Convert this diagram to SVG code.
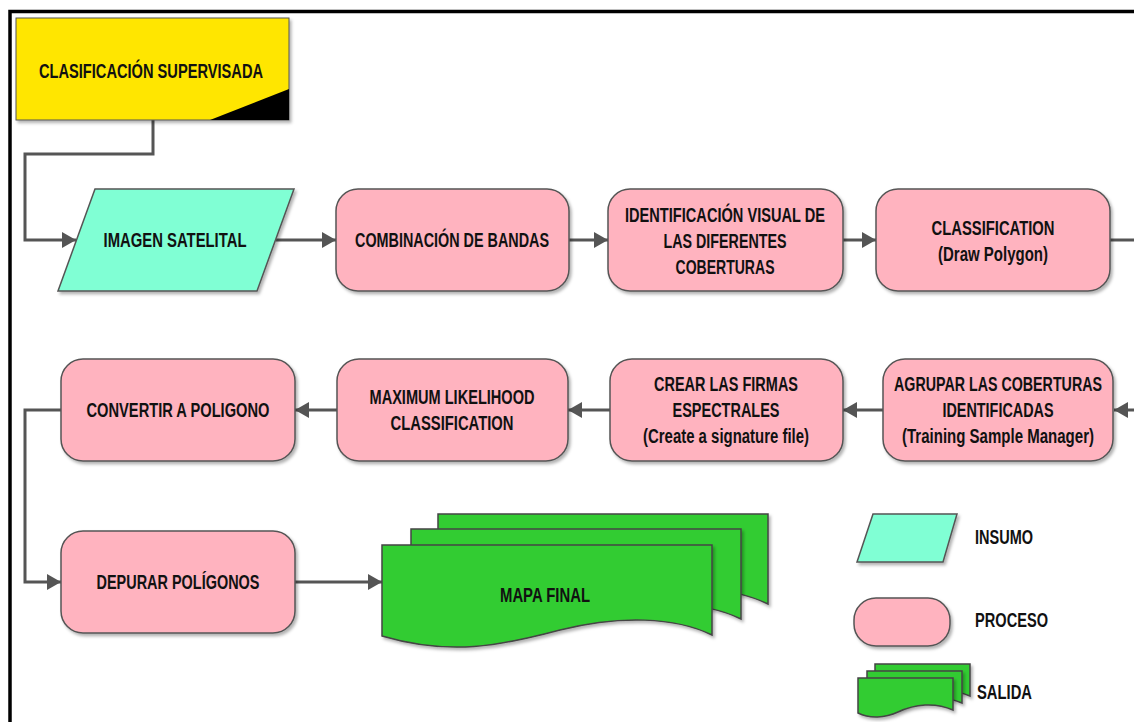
<svg xmlns="http://www.w3.org/2000/svg" width="1134" height="722" viewBox="0 0 1134 722">
<defs>
<style>
.t{font-family:"Liberation Sans Narrow","Arial Narrow","Liberation Sans",Arial,sans-serif;font-weight:bold;font-size:19.5px;fill:#111;text-anchor:middle}
.l{text-anchor:start}
.proc{fill:#FFB3BF;stroke:#555;stroke-width:1.5}
.inp{fill:#80FFD4;stroke:#555;stroke-width:1.5}
.out{fill:#33CC33;stroke:#444;stroke-width:1.5}
.conn{fill:none;stroke:#555;stroke-width:3}
</style>
<filter id="sh" x="-10%" y="-10%" width="120%" height="130%">
<feDropShadow dx="2" dy="2.5" stdDeviation="1.5" flood-color="#000" flood-opacity="0.3"/>
</filter>
<marker id="ah" markerUnits="userSpaceOnUse" markerWidth="14" markerHeight="16" refX="14" refY="8" orient="auto" viewBox="0 0 14 16">
<path d="M0,0 L14,8 L0,16 Z" fill="#555"/>
</marker>
<path id="sheet" d="M382,545 H712 V635 C675,617 620,615 560,630 C500,646 450,656 382,636 Z"/>
<path id="lsheet" d="M858,678 H953 V710 C935,702 915,704 898,712 C885,718 870,719 858,713 Z"/>
</defs>
<rect width="1134" height="722" fill="#fff"/>
<path d="M10,722 V11.5 H1134" fill="none" stroke="#000" stroke-width="3.5"/>

<g id="connectors">
<path class="conn" d="M153,120 V154 H25 V240 H76" marker-end="url(#ah)"/>
<path class="conn" d="M276,240 H336" marker-end="url(#ah)"/>
<path class="conn" d="M569,240 H608" marker-end="url(#ah)"/>
<path class="conn" d="M843,240 H876" marker-end="url(#ah)"/>
<path class="conn" d="M1110,240 H1134"/>
<path class="conn" d="M1134,410 H1114" marker-end="url(#ah)"/>
<path class="conn" d="M883,410 H843" marker-end="url(#ah)"/>
<path class="conn" d="M610,410 H568" marker-end="url(#ah)"/>
<path class="conn" d="M337,410 H295" marker-end="url(#ah)"/>
<path class="conn" d="M61,410 H25 V582 H61" marker-end="url(#ah)"/>
<path class="conn" d="M295,582 H382" marker-end="url(#ah)"/>
</g>

<g id="clasificacion">
<rect x="16" y="18" width="273" height="102" fill="#FFE600" stroke="#555" stroke-width="1" filter="url(#sh)"/>
<polygon points="210,120 289,89 289,120" fill="#000"/>
<text class="t" x="151" y="78" textLength="224" lengthAdjust="spacingAndGlyphs">CLASIFICACIÓN SUPERVISADA</text>
</g>

<g id="imagen">
<polygon class="inp" points="95,189 294,189 257,291 58,291" filter="url(#sh)"/>
<text class="t" x="175" y="247" textLength="143" lengthAdjust="spacingAndGlyphs">IMAGEN SATELITAL</text>
</g>

<g id="combinacion">
<rect class="proc" x="336" y="189" width="233" height="102" rx="22" filter="url(#sh)"/>
<text class="t" x="452" y="247" textLength="194" lengthAdjust="spacingAndGlyphs">COMBINACIÓN DE BANDAS</text>
</g>

<g id="identificacion">
<rect class="proc" x="608" y="189" width="235" height="102" rx="22" filter="url(#sh)"/>
<text class="t" x="725" y="222" textLength="200" lengthAdjust="spacingAndGlyphs">IDENTIFICACIÓN VISUAL DE</text>
<text class="t" x="725" y="248" textLength="123" lengthAdjust="spacingAndGlyphs">LAS DIFERENTES</text>
<text class="t" x="725" y="274" textLength="99" lengthAdjust="spacingAndGlyphs">COBERTURAS</text>
</g>

<g id="classification">
<rect class="proc" x="876" y="189" width="234" height="102" rx="22" filter="url(#sh)"/>
<text class="t" x="993" y="235" textLength="123" lengthAdjust="spacingAndGlyphs">CLASSIFICATION</text>
<text class="t" x="993" y="261" textLength="110" lengthAdjust="spacingAndGlyphs">(Draw Polygon)</text>
</g>

<g id="agrupar">
<rect class="proc" x="883" y="359" width="230" height="102" rx="22" filter="url(#sh)"/>
<text class="t" x="998" y="391" textLength="208" lengthAdjust="spacingAndGlyphs">AGRUPAR LAS COBERTURAS</text>
<text class="t" x="998" y="417" textLength="111" lengthAdjust="spacingAndGlyphs">IDENTIFICADAS</text>
<text class="t" x="998" y="443" textLength="192" lengthAdjust="spacingAndGlyphs">(Training Sample Manager)</text>
</g>

<g id="crear">
<rect class="proc" x="610" y="359" width="233" height="102" rx="22" filter="url(#sh)"/>
<text class="t" x="726" y="391" textLength="144" lengthAdjust="spacingAndGlyphs">CREAR LAS FIRMAS</text>
<text class="t" x="726" y="417" textLength="107" lengthAdjust="spacingAndGlyphs">ESPECTRALES</text>
<text class="t" x="726" y="443" textLength="166" lengthAdjust="spacingAndGlyphs">(Create a signature file)</text>
</g>

<g id="maximum">
<rect class="proc" x="337" y="359" width="231" height="102" rx="22" filter="url(#sh)"/>
<text class="t" x="452" y="404" textLength="165" lengthAdjust="spacingAndGlyphs">MAXIMUM LIKELIHOOD</text>
<text class="t" x="452" y="430" textLength="123" lengthAdjust="spacingAndGlyphs">CLASSIFICATION</text>
</g>

<g id="convertir">
<rect class="proc" x="61" y="359" width="234" height="102" rx="22" filter="url(#sh)"/>
<text class="t" x="178" y="417" textLength="183" lengthAdjust="spacingAndGlyphs">CONVERTIR A POLIGONO</text>
</g>

<g id="depurar">
<rect class="proc" x="61" y="531" width="234" height="102" rx="22" filter="url(#sh)"/>
<text class="t" x="178" y="589" textLength="163" lengthAdjust="spacingAndGlyphs">DEPURAR POLÍGONOS</text>
</g>

<g id="mapa">
<use href="#sheet" class="out" transform="translate(56,-31)" filter="url(#sh)"/>
<use href="#sheet" class="out" transform="translate(29,-16)" filter="url(#sh)"/>
<use href="#sheet" class="out" filter="url(#sh)"/>
<text class="t" x="545" y="602" textLength="90" lengthAdjust="spacingAndGlyphs">MAPA FINAL</text>
</g>

<g id="legend-insumo">
<polygon class="inp" points="873,514 957,514 943,562 857,562" filter="url(#sh)"/>
<text class="t l" x="975" y="544" textLength="58" lengthAdjust="spacingAndGlyphs">INSUMO</text>
</g>
<g id="legend-proceso">
<rect class="proc" x="854" y="598" width="96" height="48" rx="22" filter="url(#sh)"/>
<text class="t l" x="975" y="627" textLength="73" lengthAdjust="spacingAndGlyphs">PROCESO</text>
</g>
<g id="legend-salida">
<use href="#lsheet" class="out" transform="translate(17,-14)" filter="url(#sh)"/>
<use href="#lsheet" class="out" transform="translate(9,-7)" filter="url(#sh)"/>
<use href="#lsheet" class="out" filter="url(#sh)"/>
<text class="t l" x="977" y="699" textLength="55" lengthAdjust="spacingAndGlyphs">SALIDA</text>
</g>
</svg>
